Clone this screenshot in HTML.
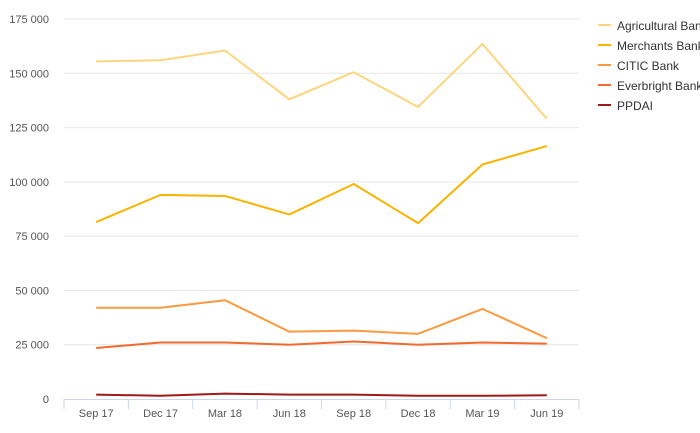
<!DOCTYPE html>
<html><head><meta charset="utf-8"><style>
html,body{margin:0;padding:0;background:#fff;width:700px;height:433px;overflow:hidden}
svg{font-family:"Liberation Sans",sans-serif}
</style></head><body>
<svg id="chart" width="700" height="433"></svg>
<script>
const categories=["Sep 17","Dec 17","Mar 18","Jun 18","Sep 18","Dec 18","Mar 19","Jun 19"];
const seriesNames=["Agricultural Bank","Merchants Bank","CITIC Bank","Everbright Bank","PPDAI"];
const agricultural=[155500,156000,160500,138000,150500,134500,163500,129000];
const merchants=[81500,94000,93500,85000,99000,81000,108000,116500];
const citic=[42000,42000,45500,31000,31500,30000,41500,28000];
const everbright=[23500,26000,26000,25000,26500,25000,26000,25500];
const ppdai=[2000,1500,2500,2000,2000,1500,1500,1700];
const yTicks=[0,25000,50000,75000,100000,125000,150000,175000];
const yTickLabels=["0","25 000","50 000","75 000","100 000","125 000","150 000","175 000"];
const colors=["#fdd57e","#f9b300","#fc9a42","#f26a2d","#a01818"];
const allSeries=[agricultural,merchants,citic,everbright,ppdai];
const NS="http://www.w3.org/2000/svg";
const svg=document.getElementById("chart");
const L=64,R=579,T=19,B=399,yMax=175000;
const band=(R-L)/categories.length;
const x=i=>L+band*(i+0.5);
const y=v=>B-(v/yMax)*(B-T);
function mk(t,a){const e=document.createElementNS(NS,t);for(const k in a)e.setAttribute(k,a[k]);svg.appendChild(e);return e;}
yTicks.forEach((v,i)=>{
  if(v>0){const g=mk("line",{x1:L,x2:R,y1:y(v),y2:y(v),stroke:"#e6e6e6","stroke-width":1});
  
  }
  const t=mk("text",{x:49,y:y(v)+4,"text-anchor":"end","font-size":11,fill:"#555"});
  t.textContent=yTickLabels[i];
  
  
});
const ax=mk("line",{x1:L,x2:R,y1:B+0.5,y2:B+0.5,stroke:"#ccd6eb","stroke-width":1});


for(let i=0;i<=categories.length;i++){
  const tk=mk("line",{x1:L+band*i,x2:L+band*i,y1:B,y2:B+10,stroke:"#ccd6eb"});
  
  
}
categories.forEach((c,i)=>{
  const t=mk("text",{x:x(i),y:417,"text-anchor":"middle","font-size":11,fill:"#555"});
  t.textContent=c;
  
  
});
allSeries.forEach((s,k)=>{
  const p=mk("polyline",{points:s.map((v,i)=>x(i)+","+y(v)).join(" "),fill:"none",stroke:colors[k],"stroke-width":2,"stroke-linejoin":"round"});
  
  
  const ly=25+k*20;
  const ll=mk("line",{x1:598,x2:611,y1:ly,y2:ly,stroke:colors[k],"stroke-width":2});
  
  
  const lt=mk("text",{x:617,y:ly+5,"font-size":12,fill:"#333"});
  lt.textContent=seriesNames[k];
  
  
});
</script>
</body></html>
